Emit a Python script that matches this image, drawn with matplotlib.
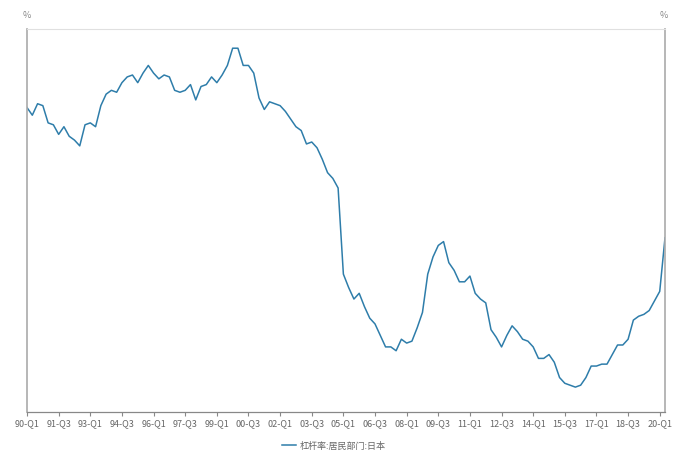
import matplotlib.pyplot as plt

plt.rcParams["font.family"] = ["Noto Sans CJK SC", "DejaVu Sans"]

# quarters 90-Q1 .. 20-Q2
quarters = [f"{(90 + q // 4) % 100:02d}-Q{q % 4 + 1}" for q in range(122)]
leverage = [
    70.9, 70.5, 71.1, 71.0, 70.1, 70.0, 69.5, 69.9, 69.4, 69.2,
    68.9, 70.0, 70.1, 69.9, 71.0, 71.6, 71.8, 71.7, 72.2, 72.5,
    72.6, 72.2, 72.7, 73.1, 72.7, 72.4, 72.6, 72.5, 71.8, 71.7,
    71.8, 72.1, 71.3, 72.0, 72.1, 72.5, 72.2, 72.6, 73.1, 74.0,
    74.0, 73.1, 73.1, 72.7, 71.4, 70.8, 71.2, 71.1, 71.0, 70.7,
    70.3, 69.9, 69.7, 69.0, 69.1, 68.8, 68.2, 67.5, 67.2, 66.7,
    62.2, 61.5, 60.9, 61.2, 60.5, 59.9, 59.6, 59.0, 58.4, 58.4,
    58.2, 58.8, 58.6, 58.7, 59.4, 60.2, 62.2, 63.1, 63.7, 63.9,
    62.8, 62.4, 61.8, 61.8, 62.1, 61.2, 60.9, 60.7, 59.3, 58.9,
    58.4, 59.0, 59.5, 59.2, 58.8, 58.7, 58.4, 57.8, 57.8, 58.0,
    57.6, 56.8, 56.5, 56.4, 56.3, 56.4, 56.8, 57.4, 57.4, 57.5,
    57.5, 58.0, 58.5, 58.5, 58.8, 59.8, 60.0, 60.1, 60.3, 60.8,
    61.3, 64.1,
]
series_name = "杠杆率:居民部门:日本"

fig = plt.figure(figsize=(6.93, 4.54), dpi=100)
ax = fig.add_axes([0.039, 0.0925, 0.9206, 0.8435])

x = list(range(len(leverage)))
line, = ax.plot(x, leverage, color="#2E7DAA", linewidth=1.1, label=series_name)

ax.set_xlim(0, len(leverage) - 1)
ax.set_ylim(55, 75)

tick_pos = x[::6][:21]
ax.set_xticks(tick_pos)
ax.set_xticklabels([quarters[i] for i in tick_pos], fontsize=6.5, color="#666666")
ax.tick_params(axis="x", length=3, width=0.8, color="#888888", pad=2)
ax.set_yticks([])

ax.spines["top"].set_color("#e0e0e0")
ax.spines["top"].set_linewidth(0.8)
ax.spines["bottom"].set_color("#888888")
ax.spines["bottom"].set_linewidth(0.9)
for side in ("left", "right"):
    ax.spines[side].set_color("#aaaaaa")
    ax.spines[side].set_linewidth(1.2)

fig.text(27 / 693, 1 - 15 / 454, "%", fontsize=6.5, color="#888888", ha="center", va="center")
fig.text(664 / 693, 1 - 15 / 454, "%", fontsize=6.5, color="#888888", ha="center", va="center")

fig.legend(handles=[line], loc="center", bbox_to_anchor=(334 / 693, 1 - 446 / 454),
           frameon=False, fontsize=6.5, labelcolor="#666666",
           handlelength=1.6, handletextpad=0.4)

fig.savefig("out.png", dpi=100)
